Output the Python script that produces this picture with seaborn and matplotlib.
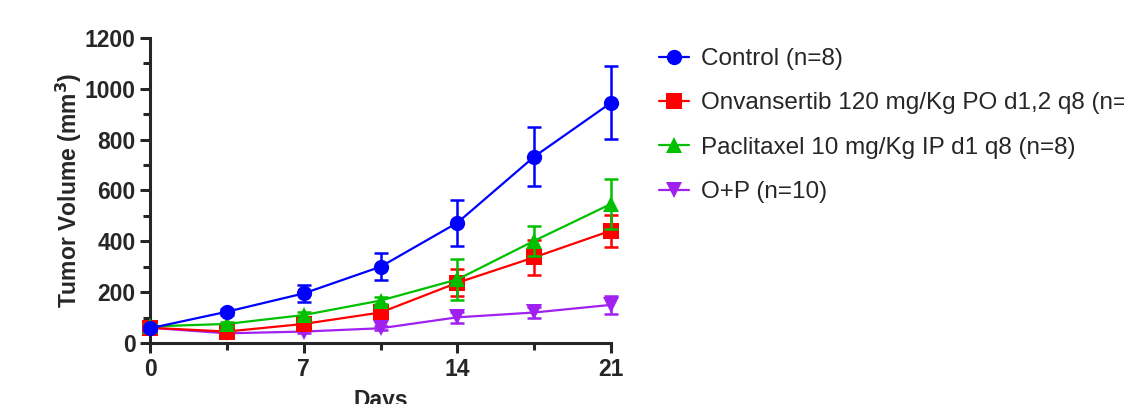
import numpy as np
import pandas as pd
import seaborn as sns
import matplotlib.pyplot as plt
from matplotlib.lines import Line2D

days = [0, 3.5, 7, 10.5, 14, 17.5, 21]

groups = ['Control (n=8)',
          'Onvansertib 120 mg/Kg PO d1,2 q8 (n=8)',
          'Paclitaxel 10 mg/Kg IP d1 q8 (n=8)',
          'O+P (n=10)']

control = [58, 123, 195, 300, 473, 733, 945]
control_err = [10, 12, 33, 53, 90, 115, 143]
onva = [60, 45, 75, 120, 237, 337, 442]
onva_err = [8, 6, 10, 15, 54, 69, 63]
pacli = [65, 75, 110, 167, 250, 402, 547]
pacli_err = [8, 8, 10, 15, 80, 60, 97]
combo = [60, 38, 45, 58, 101, 120, 150]
combo_err = [6, 5, 6, 8, 21, 20, 36]

colors = ['#0000FF', '#FF0000', '#00C000', '#A020F0']
markers = ['o', 's', '^', 'v']

df = pd.DataFrame({
    'Days': days * 4,
    'Volume': control + onva + pacli + combo,
    'Err': control_err + onva_err + pacli_err + combo_err,
    'Group': np.repeat(groups, len(days)),
})

sns.set_style('ticks')
plt.rcParams['font.family'] = ['Liberation Sans', 'DejaVu Sans']

fig = plt.figure(figsize=(11.24, 4.04), dpi=100)
ax = fig.add_axes([0.1335, 0.151, 0.4101, 0.755])

order = [3, 1, 2, 0]  # draw control on top
for k, i in enumerate(order):
    sub = df[df['Group'] == groups[i]]
    eb = ax.errorbar(sub['Days'], sub['Volume'], yerr=sub['Err'], fmt='none',
                     ecolor=colors[i], elinewidth=1.8, capsize=5, capthick=1.8,
                     zorder=3 + k)
    for art in eb.get_children():
        art.set_clip_on(False)
    sns.lineplot(data=sub, x='Days', y='Volume', color=colors[i],
                 marker=markers[i], markersize=11, markeredgewidth=0,
                 linewidth=1.6, ax=ax, errorbar=None, legend=False,
                 zorder=3 + k, clip_on=False)

ax.set_xlim(0, 21)
ax.set_ylim(0, 1200)
ax.set_xticks([0, 7, 14, 21])
ax.set_xticks(days, minor=True)
ax.set_yticks(range(0, 1201, 200))
ax.set_yticks(range(0, 1201, 100), minor=True)
sns.despine(ax=ax)
for s in ['left', 'bottom']:
    ax.spines[s].set_linewidth(2.2)
ax.tick_params(axis='both', which='major', direction='out', length=7, width=2.2,
               labelsize=16.5)
ax.tick_params(axis='both', which='minor', direction='out', length=5, width=2.2)
for lab in ax.get_xticklabels() + ax.get_yticklabels():
    lab.set_fontweight('bold')
ax.set_xlabel('Days', fontsize=16.5, fontweight='bold', labelpad=6)
ax.set_ylabel('Tumor Volume (mm$^\\mathbf{3}$)', fontsize=16.5, fontweight='bold',
              labelpad=0)

handles = [Line2D([0], [0], color=c, marker=m, markersize=11, markeredgewidth=0,
                  linewidth=1.6) for c, m in zip(colors, markers)]
fig.legend(handles, groups, loc='upper left', bbox_to_anchor=(0.578, 0.905),
           frameon=False, fontsize=17.5, handlelength=1.2, handletextpad=0.5,
           labelspacing=0.92, borderaxespad=0)

fig.savefig('out.png', dpi=100)
